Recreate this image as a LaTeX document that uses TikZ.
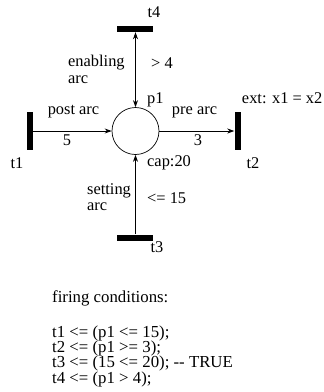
\documentclass[tikz,border=0pt]{standalone}
\usepackage{fontspec}
\setmainfont{Liberation Serif}
\usetikzlibrary{arrows.meta}
\tikzset{
  bar/.style={draw=none,fill=black,inner sep=0pt,rectangle},
  hbar/.style={bar,minimum width=36pt,minimum height=6pt},
  vbar/.style={bar,minimum width=6pt,minimum height=38pt},
  place/.style={draw,circle,line width=0.7pt,minimum size=47pt,inner sep=0pt},
  arc/.style={line width=0.8pt},
  tip/.style={-{Stealth[length=7pt,width=5pt]}},
  lbl/.style={font=\fontsize{16.4}{17}\selectfont,inner sep=0pt},
  cond/.style={font=\fontsize{16.8}{15.3}\selectfont,inner sep=0pt,align=left},
}
\begin{document}
\begin{tikzpicture}[x=1pt,y=-1pt]
\useasboundingbox (0,0) rectangle (324,392);
\node[place] (p1) at (135.5,131) {};
\node[hbar] (t4) at (134.5,29) {};
\node[hbar] (t3) at (134.5,237.5) {};
\node[vbar] (t1) at (30,131) {};
\node[vbar] (t2) at (237.5,131) {};
% arcs
\draw[arc,{Stealth[length=7pt,width=5pt]}-{Stealth[length=7pt,width=5pt]}] (t4.south -| p1.north) -- (p1.north);
\draw[arc,tip] (t3.north -| p1.south) -- (p1.south);
\draw[arc,tip] (t1.east) -- (p1.west);
\draw[arc,tip] (p1.east) -- (t2.west);
% labels
\node[lbl,anchor=base] (lt4) at (154,17) {t4};
\node[lbl,anchor=base] (lt1) at (17,168) {t1};
\node[lbl,anchor=base] (lt2) at (253,168) {t2};
\node[lbl,anchor=base] (lt3) at (157,252) {t3};
\node[lbl,anchor=base west] (en1) at (68,66) {enabling};
\node[lbl,anchor=base west] (en2) at (68,83) {arc};
\node[lbl,anchor=base west] (gt4) at (151,68) {> 4};
\node[lbl,anchor=base west] (lp1) at (147,103) {p1};
\node[lbl,anchor=base] (post) at (73.5,114) {post arc};
\node[lbl,anchor=base] (pre) at (194.5,114) {pre arc};
\node[lbl,anchor=base] (w5) at (67,145) {5};
\node[lbl,anchor=base] (w3) at (198,145) {3};
\node[lbl,anchor=base east] (ext) at (322.5,103) {ext: x1 = x2};
\node[lbl,anchor=base west] (cap) at (147,166) {cap:20};
\node[lbl,anchor=base west] (se1) at (87,194) {setting};
\node[lbl,anchor=base west] (se2) at (87,210) {arc};
\node[lbl,anchor=base west] (le15) at (147,203) {<= 15};
% firing conditions
\node[cond,anchor=base west] (fc) at (52,302) {firing conditions:};
\node[cond,anchor=base west] (c1) at (52,337) {t1 <= (p1 <= 15);};
\node[cond,anchor=base west] (c2) at (52,352.3) {t2 <= (p1 >= 3);};
\node[cond,anchor=base west] (c3) at (52,367.6) {t3 <= (15 <= 20); -{}- TRUE};
\node[cond,anchor=base west] (c4) at (52,383) {t4 <= (p1 > 4);};
\end{tikzpicture}
\end{document}
